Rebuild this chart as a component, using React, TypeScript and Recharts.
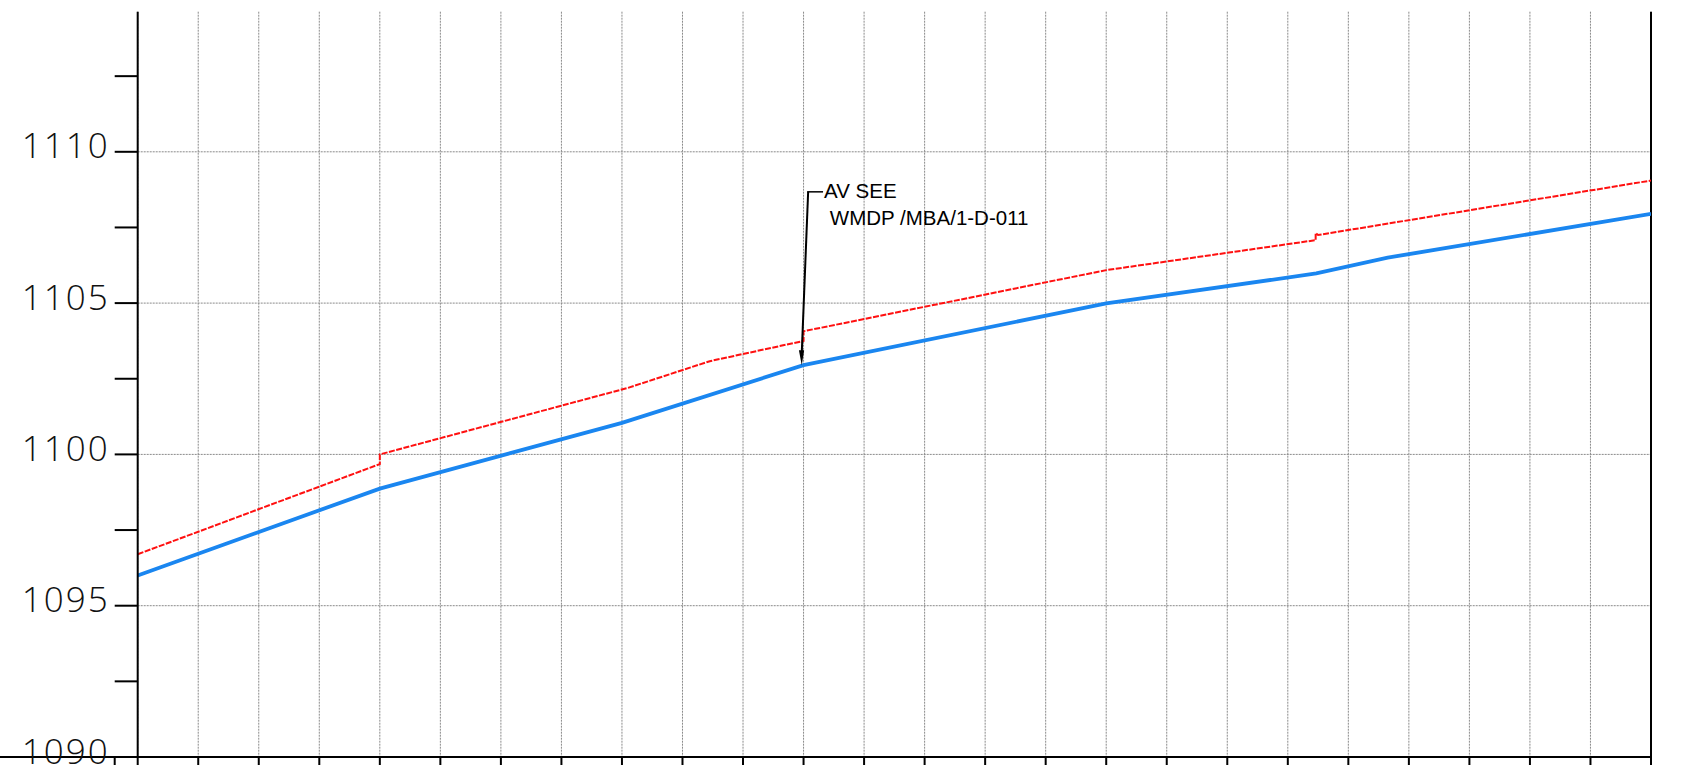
import React from "react";
import {
  LineChart,
  Line,
  XAxis,
  YAxis,
  CartesianGrid,
  ReferenceLine,
  ReferenceDot,
} from "recharts";

// ---- data (x = station grid index, y = elevation) ----
const blueX = [0, 4, 8, 11, 16, 19.47, 20.65, 25];
const blueY = [1096.0, 1098.87, 1101.04, 1102.95, 1104.99, 1105.98, 1106.5, 1107.95];

const redX = [0, 4, 4, 8.1, 9.45, 11, 11, 16, 19.46, 19.46, 19.5, 25];
const redY = [
  1096.7, 1099.68, 1100.0, 1102.2, 1103.08, 1103.75, 1104.07, 1106.09, 1107.08,
  1107.32, 1107.25, 1109.05,
];

const xTicks = [
  0, 1, 2, 3, 4, 5, 6, 7, 8, 9, 10, 11, 12, 13, 14, 15, 16, 17, 18, 19, 20, 21,
  22, 23, 24, 25,
];
const yTicks = [1090, 1092.5, 1095, 1097.5, 1100, 1102.5, 1105, 1107.5, 1110, 1112.5];
const yGridValues = [1095, 1100, 1105, 1110];

const calloutX = 11;
const calloutY = 1102.95;
const calloutLine1 = "AV SEE";
const calloutLine2 = "WMDP /MBA/1-D-011";

const blueData = blueX.map((x, i) => ({ x, y: blueY[i] }));
const redData = redX.map((x, i) => ({ x, y: redY[i] }));

const FONT = "'Liberation Sans', Arial, sans-serif";
const TICK_FONT = "'Open Sans', 'Liberation Sans', Arial, sans-serif";

const EmptyTick = () => <g />;

const YTick = (props: any) => {
  const { x, y, payload } = props;
  const v = Number(payload.value);
  const showLabel = Math.abs(v % 5) < 1e-6;
  const axisX = x + 10 + 23;
  const isBase = Math.abs(v - 1090) < 1e-6;
  return (
    <g>
      {isBase && (
        <g>
          <line x1={0} y1={y} x2={axisX} y2={y} stroke="#000" strokeWidth={2} />
          <line x1={x + 10} y1={y} x2={x + 10} y2={y + 14} stroke="#000" strokeWidth={2} />
        </g>
      )}
      {showLabel && (
        <text
          x={x + 5}
          y={y + 6.6}
          textAnchor="end"
          fontSize={35}
          fontWeight={300}
          letterSpacing={2}
          fontFamily={TICK_FONT}
          fill="#111"
        >
          {String(v)}
        </text>
      )}
    </g>
  );
};

const Callout = (props: any) => {
  const { cx, cy } = props;
  if (cx == null || cy == null) return <g />;
  const tipX = cx - 1.8;
  const topX = cx + 4.6;
  const topY = cy - 173.3;
  return (
    <g>
      <line x1={topX} y1={topY} x2={tipX} y2={cy - 12} stroke="#000" strokeWidth={2} />
      <polygon
        points={`${tipX},${cy} ${tipX - 2.8},${cy - 15} ${tipX + 2.4},${cy - 15}`}
        fill="#000"
      />
      <line x1={topX - 1} y1={topY} x2={cx + 19.5} y2={topY} stroke="#000" strokeWidth={1.5} />
      <text x={cx + 20.5} y={cy - 166.7} fontSize={20.5} fontFamily={FONT} fill="#000">
        {calloutLine1}
      </text>
      <text x={cx + 26.3} y={cy - 140} fontSize={20.5} fontFamily={FONT} fill="#000">
        {calloutLine2}
      </text>
    </g>
  );
};

export default function App() {
  return (
    <div style={{ position: "fixed", left: 0, top: 0, width: 1684, height: 765, background: "#fff" }}>
      <LineChart
        width={1684}
        height={765}
        margin={{ top: 11.7, right: 33, bottom: 0, left: 0 }}
      >
        <CartesianGrid
          stroke="#8a8a8a"
          strokeDasharray="2 1"
          strokeWidth={1}
          horizontalValues={yGridValues}
          verticalValues={xTicks}
        />
        <XAxis
          dataKey="x"
          type="number"
          domain={[0, 25]}
          ticks={xTicks}
          interval={0}
          allowDataOverflow
          height={8}
          tick={<EmptyTick />}
          tickSize={14}
          tickLine={{ stroke: "#000", strokeWidth: 2 }}
          axisLine={{ stroke: "#000", strokeWidth: 2 }}
        />
        <YAxis
          type="number"
          domain={[1090, 1114.63]}
          allowDataOverflow
          ticks={yTicks}
          width={137.7}
          tickSize={23}
          tickMargin={10}
          tick={<YTick />}
          tickLine={{ stroke: "#000", strokeWidth: 2 }}
          axisLine={{ stroke: "#000", strokeWidth: 2 }}
          interval={0}
        />
        <ReferenceLine x={25} stroke="#000" strokeWidth={2} />
        <Line
          data={redData}
          dataKey="y"
          type="linear"
          stroke="#ff1010"
          strokeWidth={2}
          strokeDasharray="6 1.5"
          dot={false}
          activeDot={false}
          isAnimationActive={false}
        />
        <Line
          data={blueData}
          dataKey="y"
          type="linear"
          stroke="#1a86f0"
          strokeWidth={3.8}
          dot={false}
          activeDot={false}
          isAnimationActive={false}
        />
        <ReferenceDot x={calloutX} y={calloutY} r={0} shape={<Callout />} />
      </LineChart>
    </div>
  );
}
